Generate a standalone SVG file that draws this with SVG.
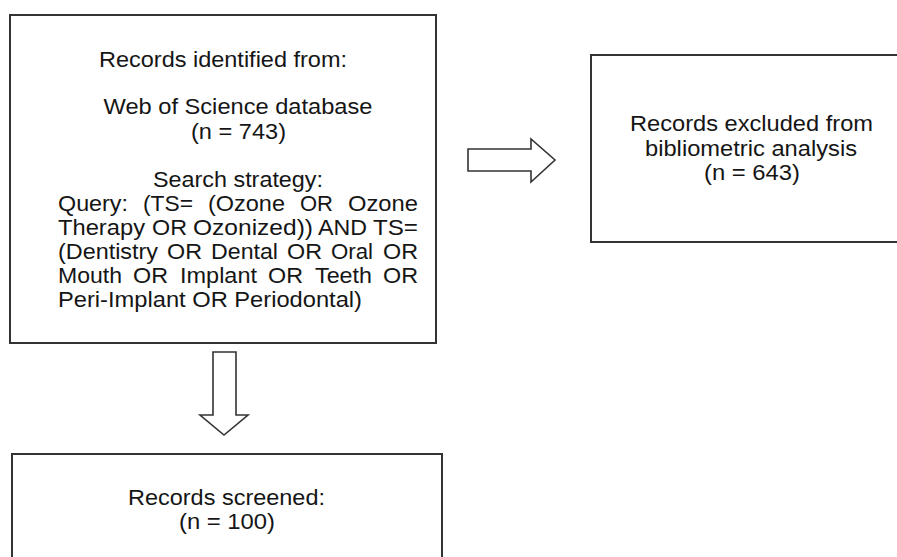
<svg xmlns="http://www.w3.org/2000/svg" width="897" height="557" viewBox="0 0 897 557">
<style>
.box{fill:#fff;stroke:#333;stroke-width:2}
.arr{fill:#fff;stroke:#333;stroke-width:1.6;stroke-linejoin:miter}
text{font-family:"Liberation Sans",Arial,sans-serif;font-size:22.5px;fill:#151515}
.c{text-anchor:middle}
</style>
<rect width="897" height="557" fill="#fff"/>
<g id="connectors">
<polygon class="arr" points="468,149 531,149 531,139 555,160 531,182 531,171 468,171"/>
<polygon class="arr" points="213,352 236,352 236,415 248,415 224,435 200,415 213,415"/>
</g>
<g id="identified">
<rect class="box" x="10" y="15" width="426" height="328"/>
<text class="c" x="223" y="67" textLength="248" lengthAdjust="spacingAndGlyphs">Records identified from:</text>
<text class="c" x="238" y="114" textLength="269" lengthAdjust="spacingAndGlyphs">Web of Science database</text>
<text class="c" x="238.5" y="139" textLength="95" lengthAdjust="spacingAndGlyphs">(n = 743)</text>
<text class="c" x="238" y="187" textLength="170" lengthAdjust="spacingAndGlyphs">Search strategy:</text>
<text y="211" lengthAdjust="spacingAndGlyphs"><tspan x="58" textLength="70" lengthAdjust="spacingAndGlyphs">Query:</tspan><tspan x="143" textLength="50" lengthAdjust="spacingAndGlyphs">(TS=</tspan><tspan x="208" textLength="77" lengthAdjust="spacingAndGlyphs">(Ozone</tspan><tspan x="300" textLength="33" lengthAdjust="spacingAndGlyphs">OR</tspan><tspan x="348" textLength="70" lengthAdjust="spacingAndGlyphs">Ozone</tspan></text>
<text y="235"><tspan x="58" textLength="87" lengthAdjust="spacingAndGlyphs">Therapy</tspan><tspan x="152" textLength="35" lengthAdjust="spacingAndGlyphs">OR</tspan><tspan x="193" textLength="120" lengthAdjust="spacingAndGlyphs">Ozonized))</tspan><tspan x="318" textLength="49" lengthAdjust="spacingAndGlyphs">AND</tspan><tspan x="373" textLength="45" lengthAdjust="spacingAndGlyphs">TS=</tspan></text>
<text y="259"><tspan x="58" textLength="100" lengthAdjust="spacingAndGlyphs">(Dentistry</tspan><tspan x="167" textLength="35" lengthAdjust="spacingAndGlyphs">OR</tspan><tspan x="211" textLength="67" lengthAdjust="spacingAndGlyphs">Dental</tspan><tspan x="287" textLength="35" lengthAdjust="spacingAndGlyphs">OR</tspan><tspan x="331" textLength="42" lengthAdjust="spacingAndGlyphs">Oral</tspan><tspan x="383" textLength="35" lengthAdjust="spacingAndGlyphs">OR</tspan></text>
<text y="283"><tspan x="58" textLength="64" lengthAdjust="spacingAndGlyphs">Mouth</tspan><tspan x="133" textLength="35" lengthAdjust="spacingAndGlyphs">OR</tspan><tspan x="180" textLength="77" lengthAdjust="spacingAndGlyphs">Implant</tspan><tspan x="268" textLength="35" lengthAdjust="spacingAndGlyphs">OR</tspan><tspan x="315" textLength="57" lengthAdjust="spacingAndGlyphs">Teeth</tspan><tspan x="383" textLength="35" lengthAdjust="spacingAndGlyphs">OR</tspan></text>
<text x="58" y="307" textLength="304" lengthAdjust="spacingAndGlyphs">Peri-Implant OR Periodontal)</text>
</g>
<g id="excluded">
<rect class="box" x="591" y="55" width="320" height="187"/>
<text class="c" x="751.5" y="131" textLength="243" lengthAdjust="spacingAndGlyphs">Records excluded from</text>
<text class="c" x="751" y="156" textLength="212" lengthAdjust="spacingAndGlyphs">bibliometric analysis</text>
<text class="c" x="752" y="180" textLength="96" lengthAdjust="spacingAndGlyphs">(n = 643)</text>
</g>
<g id="screened">
<rect class="box" x="12" y="454" width="430" height="120"/>
<text class="c" x="226.5" y="505" textLength="197" lengthAdjust="spacingAndGlyphs">Records screened:</text>
<text class="c" x="227" y="529" textLength="96" lengthAdjust="spacingAndGlyphs">(n = 100)</text>
</g>
</svg>
